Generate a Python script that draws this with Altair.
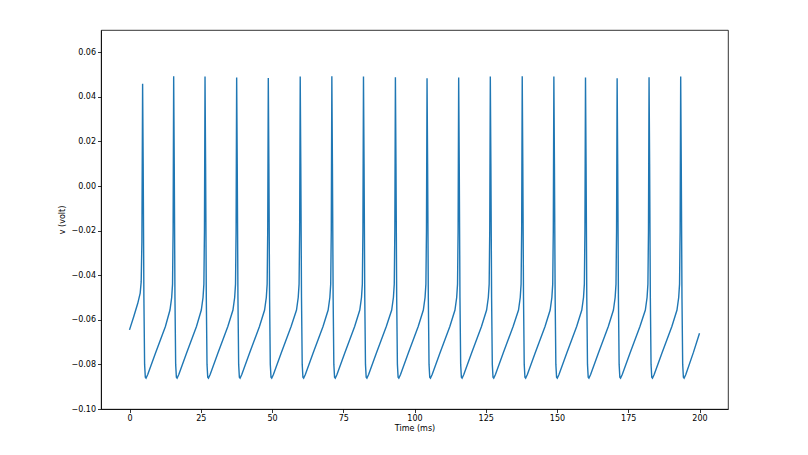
import altair as alt
import pandas as pd

# Spike peak times (ms) and peak voltages (V)
spike_times = [4.6, 15.5, 26.5, 37.6, 48.7, 59.9, 71.0, 82.1, 93.3, 104.4,
               115.5, 126.6, 137.8, 148.9, 160.0, 171.1, 182.3, 193.4]

# Time points (ms), one row per segment
time_rows = [
    [0.0, 1.5, 2.9, 3.75, 4.1, 4.35],
    [4.6, 4.8, 5.05, 5.3, 5.55, 5.8, 6.4, 9.1, 12.6, 14.2, 14.8, 15.1, 15.3],
    [15.5, 15.7, 15.95, 16.2, 16.45, 16.7, 17.3, 20.0, 23.5, 25.2, 25.8, 26.1, 26.3],
    [26.5, 26.7, 26.95, 27.2, 27.45, 27.7, 28.3, 31.0, 34.5, 36.3, 36.9, 37.2, 37.4],
    [37.6, 37.8, 38.05, 38.3, 38.55, 38.8, 39.4, 42.1, 45.6, 47.4, 48.0, 48.3, 48.5],
    [48.7, 48.9, 49.15, 49.4, 49.65, 49.9, 50.5, 53.2, 56.7, 58.6, 59.2, 59.5, 59.7],
    [59.9, 60.1, 60.35, 60.6, 60.85, 61.1, 61.7, 64.4, 67.9, 69.7, 70.3, 70.6, 70.8],
    [71.0, 71.2, 71.45, 71.7, 71.95, 72.2, 72.8, 75.5, 79.0, 80.8, 81.4, 81.7, 81.9],
    [82.1, 82.3, 82.55, 82.8, 83.05, 83.3, 83.9, 86.6, 90.1, 92.0, 92.6, 92.9, 93.1],
    [93.3, 93.5, 93.75, 94.0, 94.25, 94.5, 95.1, 97.8, 101.3, 103.1, 103.7, 104.0, 104.2],
    [104.4, 104.6, 104.85, 105.1, 105.35, 105.6, 106.2, 108.9, 112.4, 114.2, 114.8, 115.1, 115.3],
    [115.5, 115.7, 115.95, 116.2, 116.45, 116.7, 117.3, 120.0, 123.5, 125.3, 125.9, 126.2, 126.4],
    [126.6, 126.8, 127.05, 127.3, 127.55, 127.8, 128.4, 131.1, 134.6, 136.5, 137.1, 137.4, 137.6],
    [137.8, 138.0, 138.25, 138.5, 138.75, 139.0, 139.6, 142.3, 145.8, 147.6, 148.2, 148.5, 148.7],
    [148.9, 149.1, 149.35, 149.6, 149.85, 150.1, 150.7, 153.4, 156.9, 158.7, 159.3, 159.6, 159.8],
    [160.0, 160.2, 160.45, 160.7, 160.95, 161.2, 161.8, 164.5, 168.0, 169.8, 170.4, 170.7, 170.9],
    [171.1, 171.3, 171.55, 171.8, 172.05, 172.3, 172.9, 175.6, 179.1, 181.0, 181.6, 181.9, 182.1],
    [182.3, 182.5, 182.75, 183.0, 183.25, 183.5, 184.1, 186.8, 190.3, 192.1, 192.7, 193.0, 193.2],
    [193.4, 193.6, 193.85, 194.1, 194.35, 194.6, 195.2, 197.9, 200.0],
]

# Membrane voltage (V) at those times
volt_rows = [
    [-0.0645, -0.0585, -0.0526, -0.048, -0.043, -0.025],
    [0.0459, 0.010, -0.050, -0.080, -0.0858, -0.0862, -0.0845, -0.075, -0.063, -0.0556, -0.050, -0.044, -0.020],
    [0.0493, 0.010, -0.050, -0.080, -0.0858, -0.0862, -0.0845, -0.075, -0.063, -0.0556, -0.050, -0.044, -0.020],
    [0.0491, 0.010, -0.050, -0.080, -0.0858, -0.0862, -0.0845, -0.075, -0.063, -0.0556, -0.050, -0.044, -0.020],
    [0.0487, 0.010, -0.050, -0.080, -0.0858, -0.0862, -0.0845, -0.075, -0.063, -0.0556, -0.050, -0.044, -0.020],
    [0.0485, 0.010, -0.050, -0.080, -0.0858, -0.0862, -0.0845, -0.075, -0.063, -0.0556, -0.050, -0.044, -0.020],
    [0.0491, 0.010, -0.050, -0.080, -0.0858, -0.0862, -0.0845, -0.075, -0.063, -0.0556, -0.050, -0.044, -0.020],
    [0.0493, 0.010, -0.050, -0.080, -0.0858, -0.0862, -0.0845, -0.075, -0.063, -0.0556, -0.050, -0.044, -0.020],
    [0.0491, 0.010, -0.050, -0.080, -0.0858, -0.0862, -0.0845, -0.075, -0.063, -0.0556, -0.050, -0.044, -0.020],
    [0.0488, 0.010, -0.050, -0.080, -0.0858, -0.0862, -0.0845, -0.075, -0.063, -0.0556, -0.050, -0.044, -0.020],
    [0.0484, 0.010, -0.050, -0.080, -0.0858, -0.0862, -0.0845, -0.075, -0.063, -0.0556, -0.050, -0.044, -0.020],
    [0.0487, 0.010, -0.050, -0.080, -0.0858, -0.0862, -0.0845, -0.075, -0.063, -0.0556, -0.050, -0.044, -0.020],
    [0.0491, 0.010, -0.050, -0.080, -0.0858, -0.0862, -0.0845, -0.075, -0.063, -0.0556, -0.050, -0.044, -0.020],
    [0.0493, 0.010, -0.050, -0.080, -0.0858, -0.0862, -0.0845, -0.075, -0.063, -0.0556, -0.050, -0.044, -0.020],
    [0.0491, 0.010, -0.050, -0.080, -0.0858, -0.0862, -0.0845, -0.075, -0.063, -0.0556, -0.050, -0.044, -0.020],
    [0.0487, 0.010, -0.050, -0.080, -0.0858, -0.0862, -0.0845, -0.075, -0.063, -0.0556, -0.050, -0.044, -0.020],
    [0.0484, 0.010, -0.050, -0.080, -0.0858, -0.0862, -0.0845, -0.075, -0.063, -0.0556, -0.050, -0.044, -0.020],
    [0.0488, 0.010, -0.050, -0.080, -0.0858, -0.0862, -0.0845, -0.075, -0.063, -0.0556, -0.050, -0.044, -0.020],
    [0.0491, 0.010, -0.050, -0.080, -0.0858, -0.0862, -0.0845, -0.0745, -0.066],
]

x_ticks = [0, 25, 50, 75, 100, 125, 150, 175, 200]
y_ticks = [-0.10, -0.08, -0.06, -0.04, -0.02, 0.00, 0.02, 0.04, 0.06]

time_ms = [t for row in time_rows for t in row]
volt = [v for row in volt_rows for v in row]
df = pd.DataFrame({"t": time_ms, "v": volt})

font = "DejaVu Sans"

chart = alt.Chart(df).mark_line(color="#1f77b4", strokeWidth=1.4).encode(
    x=alt.X("t:Q", title="Time (ms)",
            scale=alt.Scale(domain=[-10, 210], nice=False, zero=False),
            axis=alt.Axis(values=x_ticks, format="d", grid=False)),
    y=alt.Y("v:Q", title="v (volt)",
            scale=alt.Scale(domain=[-0.10, 0.07], nice=False, zero=False),
            axis=alt.Axis(values=y_ticks, format=".2f", grid=False)),
).properties(
    width=627, height=379,
    autosize=alt.AutoSizeParams(type="none"),
    padding={"left": 93, "top": 22, "right": 72, "bottom": 38},
).configure_view(
    stroke="black", strokeWidth=0.8
).configure_axis(
    domainColor="black", domainWidth=0.8,
    tickColor="black", tickSize=3.5, tickWidth=0.8,
    labelFont=font, labelFontSize=8, labelColor="black", labelPadding=2,
    titleFont=font, titleFontSize=8, titleColor="black", titleFontWeight="normal",
).configure_axisX(
    titlePadding=2
).configure_axisY(
    titlePadding=4
)

chart.save("out.html", embed_options={"renderer": "svg", "actions": False})
